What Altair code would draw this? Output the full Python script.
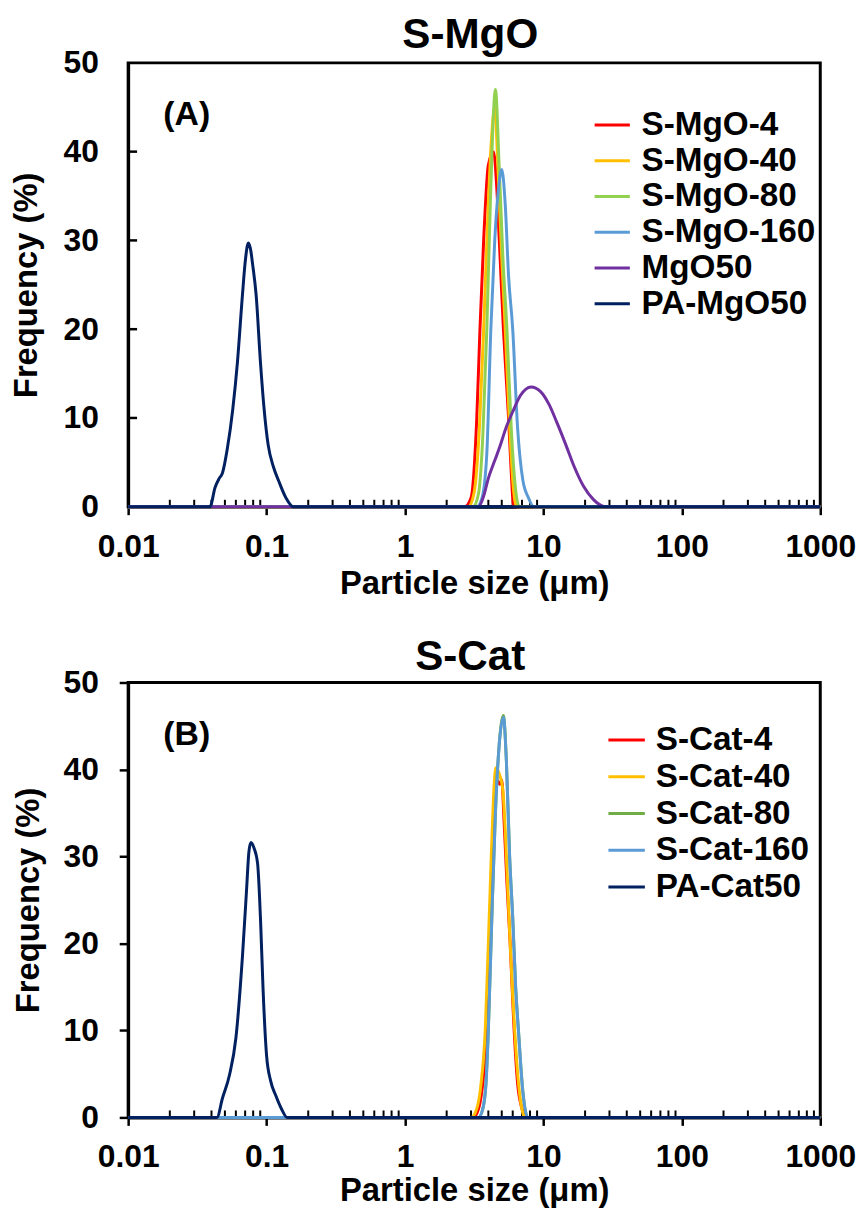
import altair as alt
import pandas as pd

FONT = "Liberation Sans"

# ---------------- Panel A data (S-MgO) ----------------
a_names = ["S-MgO-4", "S-MgO-40", "S-MgO-80", "S-MgO-160", "MgO50", "PA-MgO50"]
a_colors = ["#FF0000", "#FFC000", "#92D050", "#5B9BD5", "#7030A0", "#002060"]

a1_x = [0.01, 2.7, 3.0, 3.3, 3.48, 3.7, 4.0, 4.36, 4.6, 4.8, 5.14, 5.6, 5.85, 6.1, 1000]
a1_y = [0, 0, 1, 10, 20, 30, 38.5, 40, 36, 30, 20, 10, 4, 0, 0]

a2_x = [0.01, 2.87, 3.15, 3.45, 3.7, 3.95, 4.2, 4.45, 4.7, 5.0, 5.3, 5.7, 6.0, 6.4, 1000]
a2_y = [0, 0, 1.5, 9, 20, 32, 41, 45, 38, 28, 20, 9, 3, 0, 0]

a3_x = [0.01, 3.1, 3.4, 3.65, 3.9, 4.15, 4.5, 4.8, 5.1, 5.45, 5.85, 6.2, 6.7, 1000]
a3_y = [0, 0, 1.5, 8, 20, 35, 47, 38, 28, 20, 9, 3, 0, 0]

a4_x = [0.01, 3.3, 3.6, 3.9, 4.17, 4.45, 4.75, 5.0, 5.3, 5.6, 6.0, 6.5, 7.1, 7.8, 8.5, 1000]
a4_y = [0, 0, 1, 6, 20, 30, 36, 38, 34, 26, 20, 9, 3, 1, 0, 0]

a5_x = [0.01, 3.4, 3.7, 4.0, 4.4, 4.84, 5.4, 6.0, 6.8, 8.15, 9.5, 11, 12.5, 14.5, 16.5, 19.5, 23, 28, 1000]
a5_y = [0, 0, 1.2, 3.2, 5, 6.75, 9, 10.7, 12.5, 13.5, 13, 11.5, 9.5, 7, 4.7, 2.3, 0.8, 0, 0]

a6_x = [0.01, 0.039, 0.0425, 0.0455, 0.048, 0.052, 0.057, 0.0616, 0.0669, 0.070, 0.0738,
        0.077, 0.079, 0.0841, 0.0903, 0.096, 0.1026, 0.112, 0.1224, 0.138, 0.156, 1000]
a6_y = [0, 0, 2.2, 3.2, 3.8, 6.5, 11, 16.3, 23.8, 27.5, 29.7,
        28.8, 27.5, 23.8, 16.3, 11, 7.0, 4.5, 2.9, 1.0, 0, 0]

# ---------------- Panel B data (S-Cat) ----------------
b_names = ["S-Cat-4", "S-Cat-40", "S-Cat-80", "S-Cat-160", "PA-Cat50"]
b_colors = ["#FF0000", "#FFC000", "#70AD47", "#5B9BD5", "#002060"]

b1_x = [0.01, 3.1, 3.4, 3.65, 3.9, 4.1, 4.3, 4.5, 4.66, 4.85, 5.0, 5.2, 5.45, 5.75, 6.1, 6.5, 7.0, 7.4, 1000]
b1_y = [0, 0, 1, 4, 10, 20, 30, 37, 38.7, 38.3, 38.8, 34, 27, 20, 11, 4, 1, 0, 0]

b2_x = [0.01, 3.0, 3.3, 3.55, 3.8, 4.0, 4.2, 4.4, 4.53, 4.8, 5.1, 5.3, 5.5, 5.75, 6.0, 6.2, 6.6, 7.1, 7.4, 1000]
b2_y = [0, 0, 1, 4, 10, 20, 30, 38, 40.2, 39.5, 37.5, 33, 27, 20, 14, 10, 4, 0.5, 0, 0]

b3_x = [0.01, 3.4, 3.65, 3.85, 4.0, 4.24, 4.5, 4.8, 5.14, 5.4, 5.7, 6.0, 6.3, 6.6, 7.1, 7.7, 1000]
b3_y = [0, 0, 1, 4, 10, 23, 35, 43, 46.2, 41, 30, 23, 15, 10, 3, 0, 0]

b4_x = [0.01, 3.4, 3.65, 3.85, 4.0, 4.24, 4.5, 4.8, 5.14, 5.4, 5.7, 6.0, 6.3, 6.6, 7.1, 7.7, 1000]
b4_y = [0, 0, 1, 4, 10, 23, 35, 43, 46, 41, 30, 23, 15, 10, 3, 0, 0]

b5_x = [0.01, 0.0438, 0.048, 0.054, 0.060, 0.067, 0.0717, 0.0745, 0.0771, 0.081, 0.0861,
        0.0906, 0.0943, 0.0999, 0.107, 0.116, 0.128, 0.141, 1000]
b5_y = [0, 0, 2.2, 4.9, 9.1, 18.6, 26.2, 30.5, 31.6, 31, 29.2,
        22.4, 14.8, 7.2, 4.2, 2.6, 1, 0, 0]

x_major = [0.01, 0.1, 1, 10, 100, 1000]
x_minor = [m * d for d in [0.01, 0.1, 1, 10, 100] for m in range(2, 10)]
y_major = [0, 10, 20, 30, 40, 50]


def make_panel(names, colors, xs, ys, title, title_y, tag, width, height,
               legend_x, legend_y, sym_len, label_off, y_inside, x_label_pad, x_title_pad):
    xscale = alt.Scale(type="log", domain=[0.01, 1000], nice=False)
    yscale = alt.Scale(domain=[0, 50], nice=False)
    xaxis = alt.Axis(values=x_major, format="~g", title="Particle size (\u03bcm)",
                     grid=False, tickSize=8, tickWidth=2.5, tickColor="black",
                     labelPadding=x_label_pad, titlePadding=x_title_pad, labelFlush=False,
                     labelOverlap=False, labelBound=False)
    if y_inside:
        yaxis = alt.Axis(values=y_major, title="Frequency (%)", grid=False,
                         ticks=False, tickSize=0, labelPadding=30, titlePadding=20)
    else:
        yaxis = alt.Axis(values=y_major, title="Frequency (%)", grid=False,
                         tickSize=9, tickWidth=2.5, tickColor="black",
                         labelPadding=21, titlePadding=18)
    cscale = alt.Scale(domain=names, range=colors)
    legend = alt.Legend(orient="none", legendX=legend_x, legendY=legend_y, title=None,
                        symbolType="stroke", symbolSize=sym_len * sym_len,
                        symbolStrokeWidth=3,
                        labelFontSize=33.5, labelFont=FONT, labelFontWeight="bold",
                        labelColor="black", rowPadding=0, labelOffset=label_off,
                        labelLimit=400, padding=0)
    layers = []
    for name, xv, yv in zip(names, xs, ys):
        df = pd.DataFrame({"x": xv, "y": yv, "series": name})
        layers.append(
            alt.Chart(df).mark_line(strokeWidth=3, interpolate="monotone").encode(
                x=alt.X("x:Q", scale=xscale, axis=xaxis),
                y=alt.Y("y:Q", scale=yscale, axis=yaxis),
                color=alt.Color("series:N", scale=cscale, legend=legend),
            )
        )
    minor = alt.Chart(pd.DataFrame({"x": x_minor})).mark_rule(
        color="black", strokeWidth=2).encode(
        x=alt.X("x:Q", scale=xscale, axis=xaxis),
        y=alt.value(height), y2=alt.value(height - 7))
    layers.insert(0, minor)
    if y_inside:
        yt = alt.Chart(pd.DataFrame({"y": y_major[1:-1]})).mark_rule(
            color="black", strokeWidth=2.5).encode(
            y=alt.Y("y:Q", scale=yscale, axis=yaxis),
            x=alt.value(0), x2=alt.value(9))
        layers.insert(0, yt)
    tag_layer = alt.Chart(pd.DataFrame({"t": [tag]})).mark_text(
        font=FONT, fontSize=34, fontWeight="bold", color="black",
        align="center", baseline="middle").encode(
        text="t:N", x=alt.value(59), y=alt.value(53))
    layers.append(tag_layer)
    title_layer = alt.Chart(pd.DataFrame({"t": [title]})).mark_text(
        font=FONT, fontSize=42.5, fontWeight="bold", color="black",
        align="center", baseline="middle").encode(
        text="t:N", x=alt.value(width / 2 - 4), y=alt.value(title_y))
    layers.append(title_layer)
    return alt.layer(*layers).properties(width=width, height=height)


pa = make_panel(a_names, a_colors, [a1_x, a2_x, a3_x, a4_x, a5_x, a6_x],
                [a1_y, a2_y, a3_y, a4_y, a5_y, a6_y], "S-MgO", -28, "(A)", 697, 447,
                468, 43, 35.5, 10, True, 17, 5)
pb = make_panel(b_names, b_colors, [b1_x, b2_x, b3_x, b4_x, b5_x],
                [b1_y, b2_y, b3_y, b4_y, b5_y], "S-Cat", -26, "(B)", 697, 438,
                482, 38, 36.7, 9.3, False, 16, 3)

chart = alt.vconcat(pa, pb, spacing=32).resolve_scale(
    color="independent", x="independent", y="independent"
).properties(
    padding={"left": 0, "top": 0, "right": 0, "bottom": 0},
    background="white",
).configure_view(
    stroke="black", strokeWidth=3
).configure_axis(
    domainColor="black", domainWidth=3,
    labelFont=FONT, labelFontSize=32, labelFontWeight="bold", labelColor="black",
    titleFont=FONT, titleFontSize=33, titleFontWeight="bold", titleColor="black",
)

chart.save("out.html", embed_options={"renderer": "svg", "actions": False})
